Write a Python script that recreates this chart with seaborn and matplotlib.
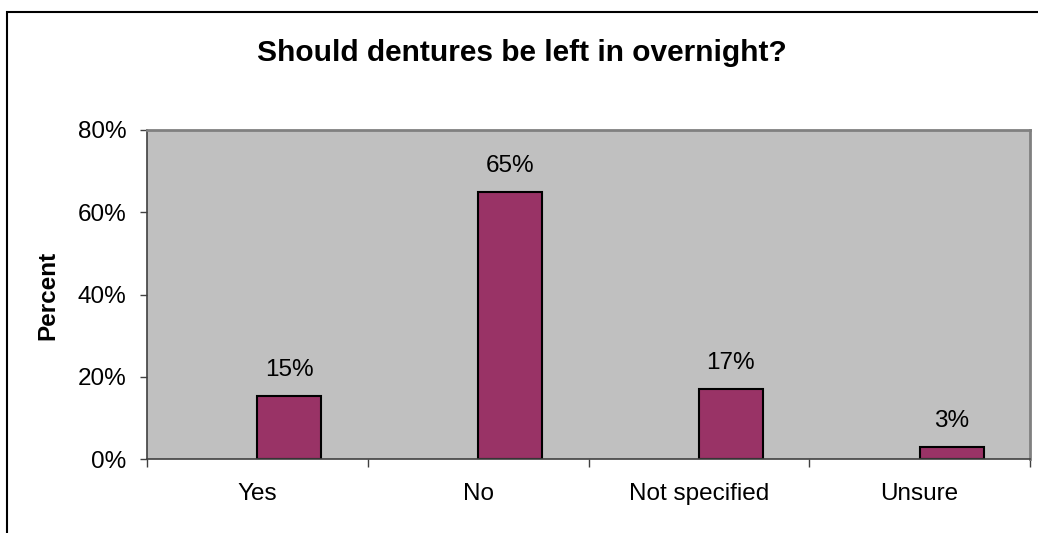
import matplotlib
matplotlib.use("Agg")
import matplotlib.pyplot as plt
from matplotlib.patches import Rectangle
from matplotlib.ticker import FuncFormatter, FixedLocator
import seaborn as sns
import pandas as pd
import numpy as np

categories = ["Yes", "No", "Not specified", "Unsure"]
values = [15.2, 65.0, 17.0, 2.8]
labels = ["15%", "65%", "17%", "3%"]
yticks = [0, 20, 40, 60, 80]
title = "Should dentures be left in overnight?"
ylabel = "Percent"

sns.set_theme(style="white")
plt.rcParams["font.family"] = ["Liberation Sans", "DejaVu Sans"]
plt.rcParams["text.color"] = "black"
plt.rcParams["xtick.color"] = "black"
plt.rcParams["ytick.color"] = "black"
plt.rcParams["xtick.labelcolor"] = "black"
plt.rcParams["ytick.labelcolor"] = "black"

df = pd.DataFrame({
    "category": categories * 2,
    "value": [np.nan] * len(categories) + values,
    "series": ["blank"] * len(categories) + ["Percent"] * len(categories),
})

W, H = 1038, 533
fig = plt.figure(figsize=(W / 100, H / 100), dpi=100)
ax = fig.add_axes([147 / W, (H - 459) / H, (1030 - 147) / W, (459 - 130) / H])
ax.set_facecolor("#C0C0C0")

sns.barplot(data=df, x="category", y="value", hue="series",
            hue_order=["blank", "Percent"], order=categories,
            palette={"blank": "#C0C0C0", "Percent": "#993366"},
            width=0.58, dodge=True, edgecolor="black", linewidth=1.5,
            legend=False, ax=ax, errorbar=None, saturation=1)

FS = 17.5
bars = [p for p in ax.patches if np.isfinite(p.get_height()) and p.get_height() > 0]
for p, lab in zip(bars, labels):
    ax.text(p.get_x() + p.get_width() / 2, p.get_height() + 4.9, lab,
            ha="center", va="baseline", fontsize=FS, color="black")

ax.set_xlim(-0.5, len(categories) - 0.5)
ax.set_ylim(0, 80)
ax.set_yticks(yticks)
ax.yaxis.set_major_formatter(FuncFormatter(lambda v, pos: f"{int(v)}%"))
ax.tick_params(axis="y", which="major", direction="out", length=5, width=1,
               color="#404040", labelsize=FS, pad=10, left=True)
ax.tick_params(axis="x", which="major", length=0, labelsize=FS, pad=17)
ax.xaxis.set_minor_locator(FixedLocator(np.arange(-0.5, len(categories), 1.0)))
ax.tick_params(axis="x", which="minor", direction="out", length=6, width=1,
               color="#404040", bottom=True)

ax.set_xlabel("")
ax.set_ylabel("")
fig.text(48 / W, 1 - 295 / H, ylabel, rotation=90, ha="center", va="center",
         fontsize=FS, fontweight="bold", color="black")

for side in ["top", "right"]:
    ax.spines[side].set_color("#808080")
    ax.spines[side].set_linewidth(2)
for side in ["left", "bottom"]:
    ax.spines[side].set_color("#404040")
    ax.spines[side].set_linewidth(1.2)

fig.text(0.503, 1 - 61 / H, title, ha="center", va="baseline",
         fontsize=21.5, fontweight="bold", color="black")

fig.patches.append(Rectangle((7 / W, -0.1), 1.2, 1.1 - 12 / H,
                             transform=fig.transFigure, fill=False,
                             edgecolor="black", linewidth=1.5))

fig.savefig("out.png", dpi=100)
